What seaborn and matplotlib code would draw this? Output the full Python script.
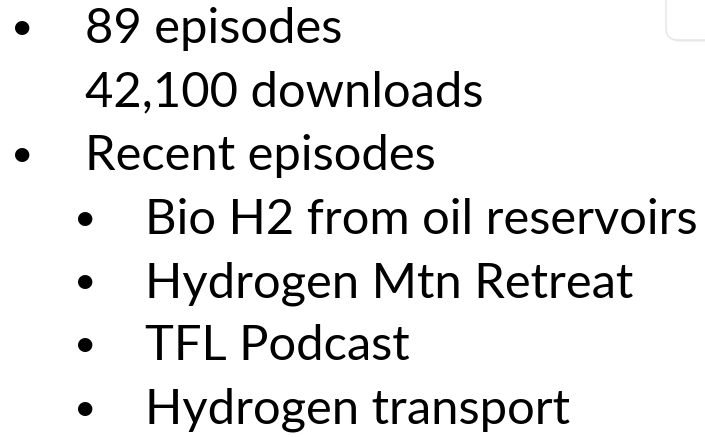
import matplotlib
matplotlib.use("Agg")
import matplotlib.pyplot as plt
from matplotlib.patches import FancyBboxPatch
import seaborn as sns

# slide content
items = [
    "89 episodes",
    "42,100 downloads",
    "Recent episodes",
    "Bio H2 from oil reservoirs",
    "Hydrogen Mtn Retreat",
    "TFL Podcast",
    "Hydrogen transport",
]
levels = [0, 0, 0, 1, 1, 1, 1]
has_bullet = [True, False, True, True, True, True, True]

sns.set_theme(style="white")
plt.rcParams["font.family"] = ["Lato", "DejaVu Sans"]

W, H = 705, 437
fig = plt.figure(figsize=(W / 100, H / 100), dpi=100)
ax = fig.add_axes([0, 0, 1, 1])
ax.set_xlim(0, W)
ax.set_ylim(H, 0)
ax.axis("off")

# faint rounded box peeking in at the top right
shadow = FancyBboxPatch((668, -30), 80, 72, boxstyle="round,pad=0,rounding_size=12",
                        facecolor="#f2f2f2", edgecolor="none", zorder=1)
ax.add_patch(shadow)
box = FancyBboxPatch((666, -32), 80, 72, boxstyle="round,pad=0,rounding_size=12",
                     facecolor="white", edgecolor="#e4e4e4", linewidth=1, zorder=2)
ax.add_patch(box)

baseline0 = 43
step = 63.5
bullet_x = [22, 85]
text_x = [85, 145]
sizes = [35.2, 35.2]

for i, (label, lvl, bul) in enumerate(zip(items, levels, has_bullet)):
    y = baseline0 + i * step
    if bul:
        ax.text(bullet_x[lvl], y - 15, "\u2022", fontsize=28, ha="center",
                va="center", color="black")
    ax.text(text_x[lvl], y, label, fontsize=sizes[lvl], ha="left",
            va="baseline", color="black")

fig.savefig("out.png", dpi=100, facecolor="white")
